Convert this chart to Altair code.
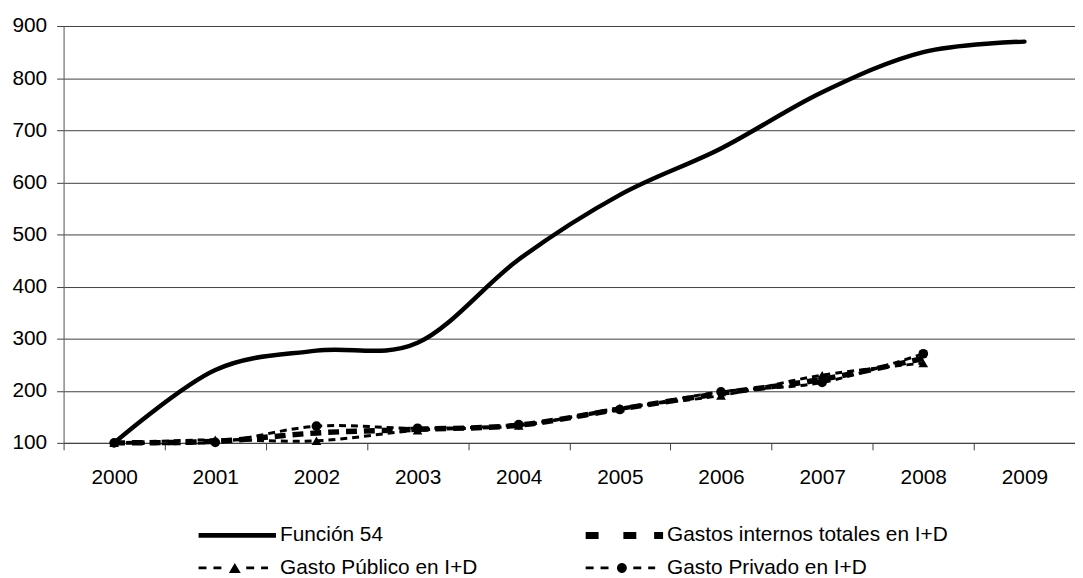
import altair as alt
import pandas as pd
import math

years = ["2000", "2001", "2002", "2003", "2004", "2005", "2006", "2007", "2008", "2009"]
funcion_54 = [100, 240, 277, 292, 452, 576, 665, 773, 850, 870]
gastos_totales = [100, 103, 119, 126, 134, 165, 195, 222, 262]
gasto_publico = [100, 106, 104, 124, 133, 167, 191, 230, 253]
gasto_privado = [100, 101, 132, 128, 135, 164, 198, 216, 271]

series_names = ["Función 54", "Gastos internos totales en I+D",
                "Gasto Público en I+D", "Gasto Privado en I+D"]

rows = []
for name, vals in zip(series_names, [funcion_54, gastos_totales, gasto_publico, gasto_privado]):
    for y, v in zip(years, vals):
        rows.append({"year": y, "serie": name, "valor": v})
df = pd.DataFrame(rows)

FONT = "Liberation Sans"
FS = 21

# ---- legend symbol paths: symbolSize 441 -> 10.5 px per path unit ----
U = 10.5
def rect(x0, x1, h):
    a, b, c = x0 / U, x1 / U, h / U
    return f"M{a:.4f},{-c:.4f}L{b:.4f},{-c:.4f}L{b:.4f},{c:.4f}L{a:.4f},{c:.4f}Z"

def tri(cx, w, h):
    return (f"M{(cx - w/2)/U:.4f},{(h/2)/U:.4f}L{cx/U:.4f},{(-h/2)/U:.4f}"
            f"L{(cx + w/2)/U:.4f},{(h/2)/U:.4f}Z")

def circ(cx, r, n=20):
    pts = []
    for i in range(n):
        t = 2 * math.pi * i / n
        pts.append(((cx + r * math.cos(t)) / U, (r * math.sin(t)) / U))
    s = f"M{pts[0][0]:.4f},{pts[0][1]:.4f}"
    for p in pts[1:]:
        s += f"L{p[0]:.4f},{p[1]:.4f}"
    return s + "Z"

dash_thin = "".join(rect(a, b, 1.4) for a, b in [(-39, -31), (-24, -16), (9, 17), (24, 31)])
sym_func = rect(-39, 39, 2.4)
sym_tot = rect(-39, -26, 3.5) + rect(-1, 12, 3.5) + rect(30, 39, 3.5)
sym_pub = dash_thin + tri(-2.5, 12, 10)
sym_priv = dash_thin + circ(-2.5, 5)

x_enc = alt.X(
    "year:O",
    scale=alt.Scale(type="band", domain=years, paddingInner=0, paddingOuter=0),
    bandPosition=0.5,
    axis=alt.Axis(title=None, labelAngle=0, tickBand="extent", tickSize=7,
                  labelPadding=17, labelFontSize=FS, labelFont=FONT,
                  labelColor="black", domainColor="#404040", tickColor="#404040",
                  grid=False),
)
y_enc = alt.Y(
    "valor:Q",
    scale=alt.Scale(domain=[100, 900], nice=False, zero=False),
    axis=alt.Axis(title=None, values=list(range(100, 1000, 100)), tickSize=7,
                  labelPadding=10, labelFontSize=FS, labelFont=FONT,
                  labelColor="black", grid=True, gridColor="#404040",
                  gridWidth=1, domainColor="#606060", tickColor="#404040"),
)

base = alt.Chart(df)

l_func = base.transform_filter(alt.datum.serie == series_names[0]).mark_line(
    color="black", strokeWidth=4.5, interpolate="cardinal", strokeCap="round"
).encode(x=x_enc, y=y_enc)

l_tot = base.transform_filter(alt.datum.serie == series_names[1]).mark_line(
    color="black", strokeWidth=5.5, strokeDash=[11, 7], interpolate="cardinal"
).encode(x=x_enc, y=y_enc)

l_pub = base.transform_filter(alt.datum.serie == series_names[2]).mark_line(
    color="black", strokeWidth=3, strokeDash=[7, 5], interpolate="cardinal"
).encode(x=x_enc, y=y_enc)

l_priv = base.transform_filter(alt.datum.serie == series_names[3]).mark_line(
    color="black", strokeWidth=3, strokeDash=[7, 5], interpolate="cardinal"
).encode(x=x_enc, y=y_enc)

p_pub = base.transform_filter(alt.datum.serie == series_names[2]).mark_point(
    shape="triangle-up", filled=True, size=95, color="black", opacity=1
).encode(x=x_enc, y=y_enc)

p_priv = base.transform_filter(alt.datum.serie == series_names[3]).mark_point(
    shape="circle", filled=True, size=95, color="black", opacity=1
).encode(x=x_enc, y=y_enc)

legend_layer = base.transform_filter("false").mark_point(
    filled=True, color="black", opacity=1
).encode(
    shape=alt.Shape(
        "serie:N",
        scale=alt.Scale(domain=series_names, range=[sym_func, sym_tot, sym_pub, sym_priv]),
        legend=alt.Legend(
            title=None, orient="none", legendX=164.5, legendY=502.5,
            direction="horizontal",
            columns=2, columnPadding=108, rowPadding=11, labelOffset=32.5,
            symbolSize=441, symbolStrokeWidth=0, symbolOpacity=1,
            symbolFillColor="black", labelFontSize=FS, labelFont=FONT,
            labelColor="black", padding=0, labelLimit=400,
        ),
    )
)

chart = alt.layer(l_tot, l_pub, l_priv, p_pub, p_priv, l_func, legend_layer).properties(
    width=1019, height=420,
    padding={"left": 56, "top": 16, "right": 0, "bottom": 134},
    autosize=alt.AutoSizeParams(type="none"),
).configure_view(stroke=None).configure(background="white")

chart.save("out.html", embed_options={"renderer": "svg", "actions": False})
